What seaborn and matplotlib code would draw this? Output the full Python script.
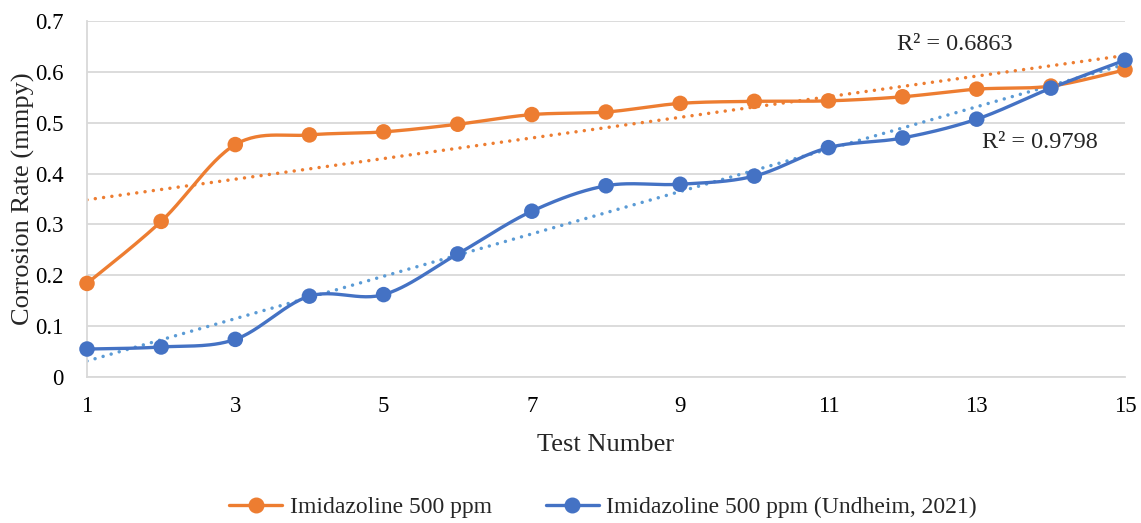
import numpy as np
import pandas as pd
import matplotlib
matplotlib.use("Agg")
import matplotlib.pyplot as plt
from matplotlib.lines import Line2D
import seaborn as sns

# Corrosion rate measurements (mmpy) per test
test_number = list(range(1, 16))
imidazoline_500 = [0.184, 0.306, 0.457, 0.476, 0.482, 0.497, 0.516, 0.521,
                   0.538, 0.542, 0.543, 0.551, 0.566, 0.572, 0.604]
imidazoline_500_undheim = [0.055, 0.059, 0.074, 0.159, 0.162, 0.242, 0.326, 0.376,
                           0.379, 0.395, 0.451, 0.470, 0.507, 0.568, 0.623]
series_names = ["Imidazoline 500 ppm", "Imidazoline 500 ppm (Undheim, 2021)"]
r2_labels = ["R² = 0.6863", "R² = 0.9798"]

ORANGE = "#ED7D31"
BLUE = "#4472C4"
BLUE_TREND = "#5B9BD5"

W, H = 1141, 523


def smooth_curve(x, y, n=30):
    """Bezier smoothing through every point (Catmull-Rom style control points)."""
    P = np.column_stack([x, y]).astype(float)
    Pe = np.vstack([P[0], P, P[-1]])
    t = np.linspace(0, 1, n)[:, None]
    out = []
    for i in range(len(P) - 1):
        p0, p1, p2, p3 = Pe[i], Pe[i + 1], Pe[i + 2], Pe[i + 3]
        b1 = p1 + (p2 - p0) / 6
        b2 = p2 - (p3 - p1) / 6
        seg = ((1 - t) ** 3) * p1 + 3 * ((1 - t) ** 2) * t * b1 + 3 * (1 - t) * t ** 2 * b2 + t ** 3 * p2
        out.append(seg if i == 0 else seg[1:])
    pts = np.vstack(out)
    return pts[:, 0], pts[:, 1]


sns.set_theme(style="white")
plt.rcParams["font.family"] = ["Liberation Serif", "DejaVu Serif"]
plt.rcParams["font.size"] = 16

fig = plt.figure(figsize=(W / 100, H / 100), dpi=100)
ax = fig.add_axes([87 / W, 1 - 377 / H, (1125 - 87) / W, (377 - 21) / H])

frames = []
for name, vals in zip(series_names, [imidazoline_500, imidazoline_500_undheim]):
    sx, sy = smooth_curve(test_number, vals)
    frames.append(pd.DataFrame({"x": sx, "y": sy, "series": name}))
curve_df = pd.concat(frames, ignore_index=True)
point_df = pd.concat([
    pd.DataFrame({"x": test_number, "y": imidazoline_500, "series": series_names[0]}),
    pd.DataFrame({"x": test_number, "y": imidazoline_500_undheim, "series": series_names[1]}),
], ignore_index=True)
palette = {series_names[0]: ORANGE, series_names[1]: BLUE}

# Linear trendlines
xs = np.array(test_number, dtype=float)
for vals, col in [(imidazoline_500, ORANGE), (imidazoline_500_undheim, BLUE_TREND)]:
    k, b = np.polyfit(xs, vals, 1)
    tx = np.array([xs[0], xs[-1]])
    ax.plot(tx, k * tx + b, color=col, lw=2.5, linestyle=(0, (0.01, 2.4)),
            dash_capstyle="round", zorder=2)

sns.lineplot(data=curve_df, x="x", y="y", hue="series", palette=palette, lw=2.4,
             sort=False, estimator=None, legend=False, ax=ax, zorder=3)
sns.scatterplot(data=point_df, x="x", y="y", hue="series", palette=palette, s=125,
                edgecolor="none", legend=False, ax=ax, zorder=4)
for c in ax.collections:
    c.set_clip_on(False)

ax.set_xlim(1, 15)
ax.set_ylim(0, 0.7)
ax.set_xticks([1, 3, 5, 7, 9, 11, 13, 15])
ax.set_yticks(np.arange(0, 0.71, 0.1))
ax.set_yticklabels(["0"] + [f"{v:.1f}" for v in np.arange(0.1, 0.71, 0.1)])
ax.yaxis.grid(True, color="#D9D9D9", lw=1.3)
ax.xaxis.grid(False)
ax.set_axisbelow(True)
for s in ["top", "right"]:
    ax.spines[s].set_visible(False)
for s in ["left", "bottom"]:
    ax.spines[s].set_color("#D9D9D9")
    ax.spines[s].set_linewidth(1.3)
ax.tick_params(axis="x", length=0, pad=14, labelsize=16.5, colors="black")
ax.tick_params(axis="y", length=0, pad=17, labelsize=16.5, colors="black")
ax.set_xlabel("Test Number", fontsize=19)
ax.set_ylabel("Corrosion Rate (mmpy)", fontsize=19)
ax.xaxis.set_label_coords(0.5, (377 - 434) / 356)
ax.yaxis.set_label_coords((35 - 87) / 1038, 0.5)

for (px, py), lab in zip([(955, 45), (1040, 143)], r2_labels):
    fig.text(px / W, 1 - py / H, lab, fontsize=17.5, ha="center", va="center")

handles = [Line2D([], [], color=palette[n], lw=2.4, marker="o", markersize=10.5) for n in series_names]
fig.legend(handles, series_names, loc="center", bbox_to_anchor=(603 / W, 1 - 507 / H),
           ncol=2, frameon=False, fontsize=17, handlelength=2.25, columnspacing=2.3,
           handletextpad=0.3)

fig.savefig("out.png", dpi=100)
